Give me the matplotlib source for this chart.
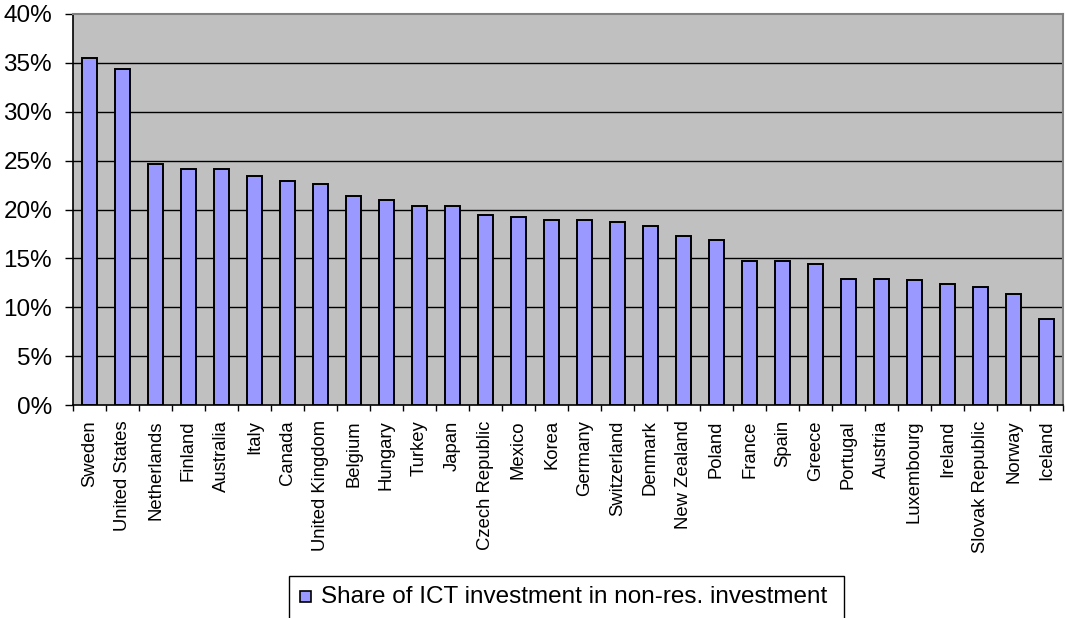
import matplotlib
matplotlib.use("Agg")
import matplotlib.pyplot as plt
from matplotlib.patches import Rectangle
from matplotlib.ticker import PercentFormatter, MultipleLocator, FixedLocator

# Share of ICT investment in total non-residential investment, by country (%)
countries = [
    "Sweden", "United States", "Netherlands", "Finland", "Australia", "Italy",
    "Canada", "United Kingdom", "Belgium", "Hungary", "Turkey", "Japan",
    "Czech Republic", "Mexico", "Korea", "Germany", "Switzerland", "Denmark",
    "New Zealand", "Poland", "France", "Spain", "Greece", "Portugal",
    "Austria", "Luxembourg", "Ireland", "Slovak Republic", "Norway", "Iceland",
]
ict_share = [
    35.5, 34.4, 24.7, 24.1, 24.1, 23.4,
    22.9, 22.6, 21.4, 21.0, 20.4, 20.4,
    19.4, 19.2, 18.9, 18.9, 18.7, 18.3,
    17.3, 16.9, 14.7, 14.7, 14.4, 12.9,
    12.9, 12.8, 12.4, 12.1, 11.4, 8.8,
]
series_name = "Share of ICT investment in non-res. investment"
y_ticks = [0, 5, 10, 15, 20, 25, 30, 35, 40]

W, H = 1065, 618
plt.rcParams["font.family"] = ["Liberation Sans", "DejaVu Sans"]

fig = plt.figure(figsize=(W / 100, H / 100), dpi=100, facecolor="white")
ax = fig.add_axes([73 / W, 1 - 405 / H, (1063 - 73) / W, (405 - 14) / H])
ax.set_facecolor("#C0C0C0")

x = list(range(len(countries)))
ax.bar(x, ict_share, width=0.43, color="#9999FF", edgecolor="black",
       linewidth=1.4, zorder=3)

ax.set_xlim(-0.5, len(countries) - 0.5)
ax.set_ylim(0, 40)

# y axis: percent labels, outward ticks, black gridlines
ax.yaxis.set_major_locator(FixedLocator(y_ticks))
ax.yaxis.set_major_formatter(PercentFormatter(decimals=0))
ax.tick_params(axis="y", direction="out", length=6, width=1, color="black",
               labelsize=17.5, pad=9)
for v in y_ticks[1:-1]:
    ax.axhline(v, color="black", linewidth=1.0, zorder=1)

# x axis: labels at category centres, ticks at category boundaries
ax.set_xticks(x)
ax.set_xticklabels(countries, rotation=90, fontsize=13.3, va="top", ha="center")
ax.tick_params(axis="x", which="major", length=0, pad=11)
ax.xaxis.set_minor_locator(MultipleLocator(1, offset=0.5))
ax.tick_params(axis="x", which="minor", direction="out", length=4, width=1,
               color="black")

for side in ("left", "bottom"):
    ax.spines[side].set_color("black")
    ax.spines[side].set_linewidth(1.2)
for side in ("top", "right"):
    ax.spines[side].set_color("#808080")
    ax.spines[side].set_linewidth(1.5)

# Legend box along the bottom edge
box_left, box_right, box_top = 289, 844, 576
fig.add_artist(Rectangle((box_left / W, -0.05), (box_right - box_left) / W,
                         (H - box_top) / H + 0.05, transform=fig.transFigure,
                         facecolor="white", edgecolor="black", linewidth=1.0))
fig.add_artist(Rectangle((300 / W, 1 - 602 / H), 11 / W, 11 / H,
                         transform=fig.transFigure, facecolor="#9999FF",
                         edgecolor="black", linewidth=1.2))
fig.text(321 / W, 1 - 603 / H, series_name, fontsize=17.5,
         ha="left", va="baseline")

fig.savefig("out.png", dpi=100, facecolor="white")
